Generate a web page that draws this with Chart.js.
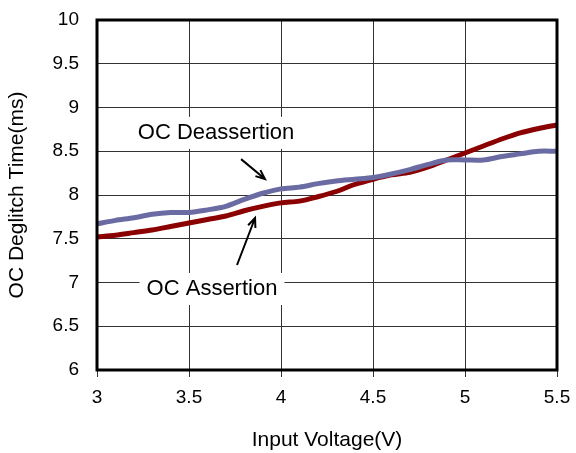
<!DOCTYPE html>
<html>
<head>
<meta charset="utf-8">
<script src="https://cdn.jsdelivr.net/npm/chart.js"></script>
<style>
  html, body { margin: 0; padding: 0; background: #fff; }
  #wrap { width: 576px; height: 453px; position: relative; }
</style>
</head>
<body>
<div id="wrap"><canvas id="chart"></canvas></div>
<script>
// input voltage (V)
const voltage = [3.0, 3.1, 3.2, 3.3, 3.4, 3.5, 3.6, 3.7, 3.8, 3.9, 4.0, 4.1, 4.2,
                 4.3, 4.4, 4.5, 4.6, 4.7, 4.8, 4.9, 5.0, 5.1, 5.2, 5.3, 5.4, 5.5];
// deglitch time (ms)
const deassertion = [7.67, 7.71, 7.74, 7.78, 7.80, 7.80, 7.83, 7.87, 7.95, 8.02, 8.07, 8.09, 8.13,
                     8.16, 8.18, 8.20, 8.24, 8.29, 8.35, 8.40, 8.40, 8.40, 8.44, 8.47, 8.50, 8.50];
const assertion = [7.52, 7.54, 7.57, 7.60, 7.64, 7.68, 7.72, 7.76, 7.82, 7.87, 7.91, 7.93, 7.98,
                   8.04, 8.12, 8.18, 8.23, 8.26, 8.32, 8.40, 8.48, 8.56, 8.64, 8.71, 8.76, 8.80];

const xTicks = [3, 3.5, 4, 4.5, 5, 5.5];
const yTicks = [6, 6.5, 7, 7.5, 8, 8.5, 9, 9.5, 10];

// callouts: label position and arrow (tail -> head), in data units
const callouts = [
    { text: "OC Deassertion", x: 3.647, y: 8.71, from: [3.783, 8.41], to: [3.913, 8.183] },
    { text: "OC Assertion", x: 3.625, y: 6.926, from: [3.761, 7.2], to: [3.859, 7.737] }
];

const FONT = "'Liberation Sans', Arial, sans-serif";
const GRID = "#333";

const toPoints = (ys) => voltage.map((v, i) => ({ x: v, y: ys[i] }));

// white label boxes go over the grid, arrows and frame go on top
const calloutPlugin = {
    id: "callouts",
    beforeDatasetsDraw(chart) {
        const { ctx, scales: { x, y } } = chart;
        ctx.save();
        ctx.font = "22px " + FONT;
        ctx.textAlign = "center";
        ctx.textBaseline = "middle";
        callouts.forEach(c => {
            const px = x.getPixelForValue(c.x);
            const py = y.getPixelForValue(c.y);
            const w = ctx.measureText(c.text).width + 14;
            ctx.fillStyle = "#fff";
            ctx.fillRect(px - w / 2, py - 16, w, 32);
            ctx.fillStyle = "#000";
            ctx.fillText(c.text, px, py);
        });
        ctx.restore();
    },
    afterDatasetsDraw(chart) {
        const { ctx, chartArea: a, scales: { x, y } } = chart;
        ctx.save();
        ctx.strokeStyle = "#000";
        ctx.lineWidth = 2;
        callouts.forEach(c => {
            const x1 = x.getPixelForValue(c.from[0]), y1 = y.getPixelForValue(c.from[1]);
            const x2 = x.getPixelForValue(c.to[0]), y2 = y.getPixelForValue(c.to[1]);
            const ang = Math.atan2(y2 - y1, x2 - x1);
            ctx.beginPath();
            ctx.moveTo(x1, y1);
            ctx.lineTo(x2, y2);
            ctx.moveTo(x2 - 10 * Math.cos(ang - 0.4), y2 - 10 * Math.sin(ang - 0.4));
            ctx.lineTo(x2, y2);
            ctx.lineTo(x2 - 10 * Math.cos(ang + 0.4), y2 - 10 * Math.sin(ang + 0.4));
            ctx.stroke();
        });
        // plot frame
        ctx.lineWidth = 3;
        ctx.strokeRect(a.left, a.top, a.right - a.left, a.bottom - a.top);
        ctx.restore();
    }
};

new Chart(document.getElementById("chart"), {
    type: "line",
    data: {
        datasets: [
            {
                label: "OC Deassertion",
                data: toPoints(deassertion),
                borderColor: "#6b6ba3",
                borderWidth: 5,
                pointRadius: 0,
                tension: 0.3
            },
            {
                label: "OC Assertion",
                data: toPoints(assertion),
                borderColor: "#8b0000",
                borderWidth: 5,
                pointRadius: 0,
                tension: 0.3
            }
        ]
    },
    options: {
        responsive: true,
        maintainAspectRatio: false,
        animation: false,
        layout: { padding: { left: 0, right: 19, top: 20, bottom: 0 } },
        plugins: {
            legend: { display: false },
            tooltip: { enabled: false }
        },
        scales: {
            x: {
                type: "linear",
                min: 3,
                max: 5.5,
                afterBuildTicks: (s) => { s.ticks = xTicks.map(v => ({ value: v })); },
                afterFit: (s) => { s.height = 83; s.paddingLeft = 0; s.paddingRight = 0; },
                border: { display: false },
                grid: { color: GRID, lineWidth: 1, drawTicks: true, tickLength: 7 },
                ticks: {
                    color: "#000",
                    padding: 9,
                    maxRotation: 0,
                    font: { family: FONT, size: 19 },
                    callback: (v) => String(v)
                },
                title: {
                    display: true,
                    text: "Input Voltage(V)",
                    color: "#000",
                    padding: { top: 0, bottom: 0 },
                    font: { family: FONT, size: 21 }
                }
            },
            y: {
                min: 6,
                max: 10,
                afterBuildTicks: (s) => { s.ticks = yTicks.map(v => ({ value: v })); },
                afterFit: (s) => { s.width = 97; s.paddingTop = 0; s.paddingBottom = 0; },
                border: { display: false },
                grid: { color: GRID, lineWidth: 1, drawTicks: false },
                ticks: {
                    color: "#000",
                    padding: 18,
                    font: { family: FONT, size: 19 },
                    callback: (v) => String(v)
                },
                title: {
                    display: true,
                    text: "OC Deglitch Time(ms)",
                    color: "#000",
                    padding: { top: 5, bottom: 0 },
                    font: { family: FONT, size: 21 }
                }
            }
        }
    },
    plugins: [calloutPlugin]
});
</script>
</body>
</html>
